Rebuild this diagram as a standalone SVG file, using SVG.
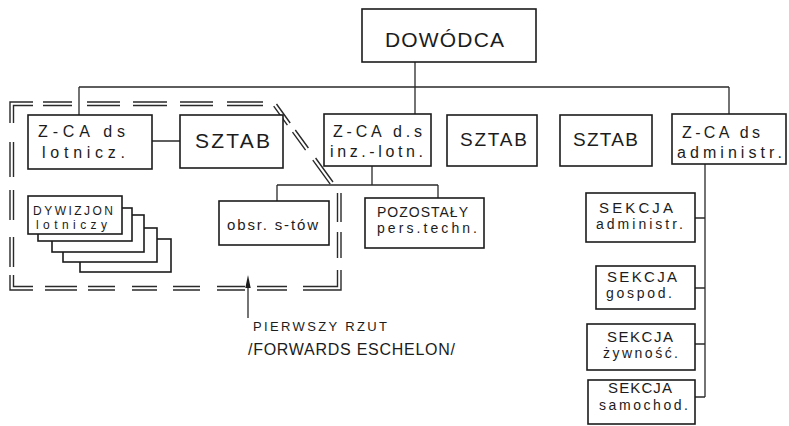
<svg xmlns="http://www.w3.org/2000/svg" width="789" height="426" viewBox="0 0 789 426">
<defs>
<style>
.box{fill:#fff;stroke:#1c1c1c;stroke-width:1.6}
.ln{fill:none;stroke:#2a2a2a;stroke-width:1.3}
.dl{fill:none;stroke:#2a2a2a;stroke-width:1.4}
text{font-family:"Liberation Sans",Arial,sans-serif;fill:#1c1c1c}
.f21{font-size:21px}.f19{font-size:19px}.f16{font-size:16px}.f15{font-size:15px}.f14{font-size:14px}.f13{font-size:13px}.f12{font-size:12px}.f17{font-size:16px}
</style>
</defs>
<rect width="789" height="426" fill="#fff"/>

<g id="connectors">
<path class="ln" d="M415,62 V114 M79,87 H729 M79,87 V115 M729,87 V114 M152,141 H180 M372,166 V185 M277,185 H438 M277,185 V201 M438,185 V198 M705,164 V397 M695,218 H705 M695,288 H705 M695,344 H705 M695,397 H705"/>
<path class="ln" d="M248,318 V284"/>
<polygon points="248,275 245.3,288 250.7,288" fill="#1c1c1c"/>
</g>

<g id="forward-echelon-boundary">
<path class="dl" d="M10,123 V102 H33 M43,102 H72 M87,102 H120 M133,102 H167 M180,102 H213 M227,102 H263 M276.5,104 L290.2,123 M295.3,130 L308.4,148 M315.6,158 L333,182 M341,193 V222 M341,232 V258 M341,270 V290 H303 M287,290 H257 M245,290 H217 M200,290 H173 M157,290 H132 M115,290 H88 M77,290 H45 M33,290 H10 V275 M10,267 V237 M10,220 V190 M10,177 V142"/>
<path class="dl" d="M13.5,123 V105.5 H33 M43,105.5 H72 M87,105.5 H120 M133,105.5 H167 M180,105.5 H213 M227,105.5 H263 M273.7,106.1 L287.4,125.1 M292.5,132.1 L305.6,150.1 M312.8,160.1 L330.2,184.1 M337.5,193 V222 M337.5,232 V258 M337.5,270 V286.5 H303 M287,286.5 H257 M245,286.5 H217 M200,286.5 H173 M157,286.5 H132 M115,286.5 H88 M77,286.5 H45 M33,286.5 H13.5 V275 M13.5,267 V237 M13.5,220 V190 M13.5,177 V142"/>
</g>

<g id="dowodca">
<rect class="box" x="362" y="9" width="174" height="53"/>
<text class="f21" x="385" y="47" textLength="119" lengthAdjust="spacing">DOWÓDCA</text>
</g>

<g id="zca-lotnicz">
<rect class="box" x="28" y="115" width="124" height="54"/>
<text class="f16" x="38" y="137" textLength="87" lengthAdjust="spacing">Z-CA ds</text>
<text class="f16" x="42" y="158" textLength="83" lengthAdjust="spacing">lotnicz.</text>
</g>

<g id="sztab-1">
<rect class="box" x="180" y="115" width="103" height="53"/>
<text class="f21" x="195" y="148" textLength="75" lengthAdjust="spacing">SZTAB</text>
</g>

<g id="zca-inz-lotn">
<rect class="box" x="324" y="114" width="107" height="52"/>
<text class="f16" x="333" y="137" textLength="89" lengthAdjust="spacing">Z-CA d.s</text>
<text class="f16" x="330" y="157" textLength="93" lengthAdjust="spacing">inz.-lotn.</text>
</g>

<g id="sztab-2">
<rect class="box" x="447" y="115" width="90" height="51"/>
<text class="f19" x="460" y="146" textLength="67" lengthAdjust="spacing">SZTAB</text>
</g>

<g id="sztab-3">
<rect class="box" x="560" y="115" width="92" height="51"/>
<text class="f19" x="573" y="146" textLength="65" lengthAdjust="spacing">SZTAB</text>
</g>

<g id="zca-administr">
<rect class="box" x="672" y="114" width="114" height="50"/>
<text class="f16" x="682" y="138" textLength="78" lengthAdjust="spacing">Z-CA ds</text>
<text class="f16" x="677" y="158" textLength="105" lengthAdjust="spacing">administr.</text>
</g>

<g id="dywizjon-stack">
<rect class="box" x="80" y="239" width="91" height="33"/>
<rect class="box" x="63" y="228" width="94" height="34"/>
<rect class="box" x="52" y="215" width="92" height="37"/>
<rect class="box" x="38" y="208" width="94" height="33"/>
<rect class="box" x="28" y="196" width="94" height="38"/>
<text class="f12" x="33" y="215" textLength="80" lengthAdjust="spacing">DYWIZJON</text>
<text class="f12" x="36" y="229" textLength="71" lengthAdjust="spacing">lotniczy</text>
</g>

<g id="obsr-stow">
<rect class="box" x="219" y="201" width="110" height="44"/>
<text class="f15" x="227" y="230" textLength="91" lengthAdjust="spacing">obsr. s-tów</text>
</g>

<g id="pozostaly">
<rect class="box" x="365" y="198" width="119" height="50"/>
<text class="f14" x="377" y="217" textLength="91" lengthAdjust="spacing">POZOSTAŁY</text>
<text class="f14" x="377" y="233" textLength="100" lengthAdjust="spacing">pers.techn.</text>
</g>

<g id="sekcja-administr">
<rect class="box" x="586" y="193" width="109" height="49"/>
<text class="f15" x="599" y="213" textLength="74" lengthAdjust="spacing">SEKCJA</text>
<text class="f14" x="596" y="229" textLength="87" lengthAdjust="spacing">administr.</text>
</g>

<g id="sekcja-gospod">
<rect class="box" x="596" y="266" width="99" height="43"/>
<text class="f15" x="607" y="282" textLength="70" lengthAdjust="spacing">SEKCJA</text>
<text class="f14" x="606" y="298" textLength="66" lengthAdjust="spacing">gospod.</text>
</g>

<g id="sekcja-zywnosc">
<rect class="box" x="587" y="324" width="108" height="46"/>
<text class="f15" x="607" y="342" textLength="66" lengthAdjust="spacing">SEKCJA</text>
<text class="f14" x="603" y="358" textLength="75" lengthAdjust="spacing">żywność.</text>
</g>

<g id="sekcja-samochod">
<rect class="box" x="588" y="380" width="107" height="44"/>
<text class="f15" x="608" y="393" textLength="64" lengthAdjust="spacing">SEKCJA</text>
<text class="f14" x="599" y="410" textLength="89" lengthAdjust="spacing">samochod.</text>
</g>

<g id="caption">
<text class="f13" x="253" y="331" textLength="134" lengthAdjust="spacing">PIERWSZY RZUT</text>
<text class="f17" x="248" y="355" textLength="207" lengthAdjust="spacing">/FORWARDS ESCHELON/</text>
</g>
</svg>
